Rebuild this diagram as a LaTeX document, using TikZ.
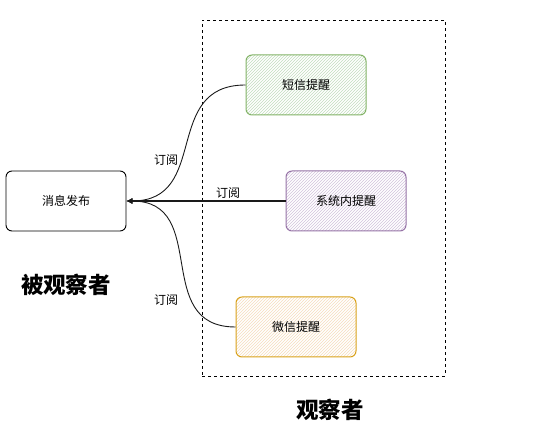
\documentclass[tikz,border=0pt]{standalone}
\usepackage{fontspec}
\newfontfamily\cjk{Noto Sans CJK SC}
\usetikzlibrary{arrows.meta, patterns}
\definecolor{smsline}{HTML}{82B366}
\definecolor{smsfill}{HTML}{C3DDBF}
\definecolor{sysline}{HTML}{9673A6}
\definecolor{sysfill}{HTML}{D3C3DC}
\definecolor{wxline}{HTML}{D9A21B}
\definecolor{wxfill}{HTML}{F6DDBE}
\definecolor{edgeblack}{HTML}{1A1A1A}
\tikzset{
  pubbox/.style={rectangle, rounded corners=6pt, draw=black, line width=0.9pt, fill=white,
                 minimum width=120pt, minimum height=60pt, inner sep=0pt,
                 font=\cjk\fontsize{12}{14}\selectfont},
  obsbox/.style 2 args={rectangle, rounded corners=6pt, draw=#1, line width=1pt,
                 preaction={fill=white}, pattern=north east lines, pattern color=#2,
                 minimum width=120pt, minimum height=60pt, inner sep=0pt,
                 font=\cjk\fontsize{12}{14}\selectfont},
  frame/.style={rectangle, draw=black, dashed, line width=0.7pt,
                minimum width=243pt, minimum height=356pt, inner sep=0pt},
  bigtitle/.style={font=\cjk\bfseries\fontsize{22.5}{26}\selectfont},
  sub/.style={-{Latex[length=6pt, width=6pt]}, line width=0.9pt, draw=edgeblack},
  sublabel/.style={font=\cjk\fontsize{12}{14}\selectfont, inner sep=2pt},
}

\begin{document}
\begin{tikzpicture}[x=1pt, y=-1pt]
  \useasboundingbox (0,0) rectangle (542,427);

  % --- observer frame
  \node[frame] (obsframe) at (323.5,198) {};

  % --- subject and observers
  \node[pubbox] (pub) at (66,201) {消息发布};
  \node[obsbox={smsline}{smsfill}] (sms) at (306,85)  {短信提醒};
  \node[obsbox={sysline}{sysfill}] (sys) at (346,201) {系统内提醒};
  \node[obsbox={wxline}{wxfill}]   (wx)  at (296,327) {微信提醒};

  \node[bigtitle] (subjt) at (66,285)  {被观察者};
  \node[bigtitle] (obst)  at (330,410) {观察者};

  % --- subscriptions
  \draw[sub] (sms.west) to[out=180, in=0, looseness=1.3]
    node[sublabel, pos=0.6, anchor=east] {订阅} (pub.east);
  \draw[sub, line width=1.3pt] (sys.west) --
    node[sublabel, pos=0.36, above] {订阅} (pub.east);
  \draw[sub] (wx.west) to[out=180, in=0, looseness=1.3]
    node[sublabel, pos=0.3, anchor=east, xshift=-10pt] {订阅} (pub.east);
\end{tikzpicture}
\end{document}
